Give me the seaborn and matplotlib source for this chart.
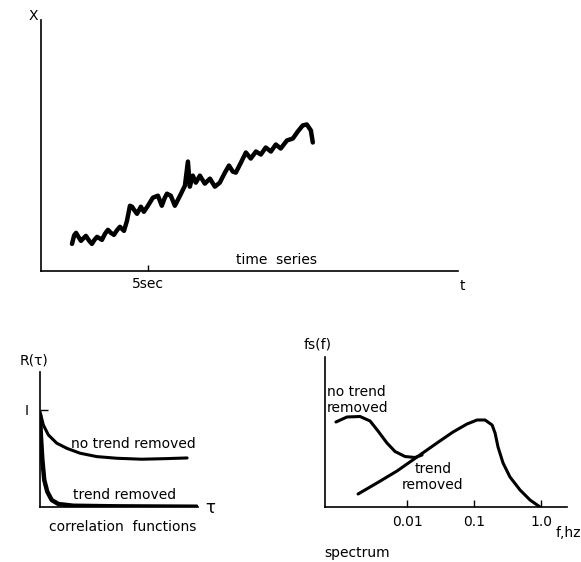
import numpy as np
import pandas as pd
import seaborn as sns
import matplotlib
matplotlib.use("Agg")
import matplotlib.pyplot as plt

sns.set_theme(style="white")
plt.rcParams['font.family'] = ['DejaVu Sans']
plt.rcParams['text.color'] = 'black'
plt.rcParams['xtick.color'] = 'black'
plt.rcParams['ytick.color'] = 'black'
plt.rcParams['lines.solid_joinstyle'] = 'round'
plt.rcParams['lines.solid_capstyle'] = 'round'

# time series (t in sec, x in arbitrary units)
ts_t = [1.45, 1.55, 1.64, 1.75, 1.87, 1.98, 2.10, 2.24, 2.38, 2.50, 2.62, 2.74,
        2.85, 2.99, 3.13, 3.27, 3.41, 3.55, 3.69, 3.88, 4.02,
        4.16, 4.26, 4.35, 4.49, 4.58, 4.67, 4.81, 5.00, 5.23, 5.47, 5.65, 5.78,
        5.89, 6.07, 6.26, 6.50, 6.73, 6.87, 6.96, 7.10, 7.24, 7.43, 7.66, 7.90,
        8.13, 8.36, 8.60, 8.79, 8.97, 9.11, 9.35, 9.58, 9.81, 10.05, 10.28,
        10.51, 10.75, 10.98, 11.21, 11.50, 11.78, 12.01, 12.24, 12.43, 12.62,
        12.71]
ts_x = [1.08, 1.42, 1.52, 1.36, 1.20, 1.30, 1.40, 1.22, 1.08, 1.24, 1.36, 1.30,
        1.24, 1.48, 1.64, 1.52, 1.44, 1.62, 1.76, 1.60, 2.00,
        2.60, 2.56, 2.44, 2.28, 2.42, 2.56, 2.36, 2.60, 2.92, 3.00, 2.60, 2.90,
        3.08, 3.00, 2.60, 3.00, 3.40, 4.36, 3.36, 3.80, 3.52, 3.80, 3.48, 3.68,
        3.36, 3.52, 3.92, 4.20, 3.96, 3.92, 4.32, 4.72, 4.48, 4.76, 4.64,
        4.92, 4.76, 5.04, 4.88, 5.20, 5.28, 5.56, 5.80, 5.84, 5.60,
        5.12]

# correlation functions
tau_no = [0, 0.21, 0.53, 1.06, 1.69, 2.53, 3.59, 4.85, 6.43, 7.97, 9.31]
r_no = [0.98, 0.845, 0.742, 0.657, 0.605, 0.554, 0.519, 0.502, 0.492, 0.498, 0.505]
tau_tr = [0, 0.06, 0.15, 0.27, 0.46, 0.74, 1.16, 2.11, 4.85, 9.92]
r_tr = [0.948, 0.725, 0.485, 0.278, 0.158, 0.072, 0.031, 0.013, 0.007, 0.003]

# spectra
f_no = [0.00087, 0.00127, 0.00199, 0.00281, 0.00369, 0.00502, 0.00662,
        0.00933, 0.01316, 0.01675]
s_no = [0.85, 0.90, 0.905, 0.86, 0.76, 0.64, 0.555, 0.505, 0.495, 0.52]
f_tr = [0.00186, 0.00356, 0.00709, 0.0141, 0.0280, 0.0486, 0.0786, 0.111,
        0.146, 0.186, 0.206, 0.228, 0.271, 0.344, 0.486, 0.685, 0.966]
s_tr = [0.13, 0.24, 0.36, 0.50, 0.64, 0.75, 0.83, 0.87, 0.87, 0.82, 0.74,
        0.60, 0.44, 0.30, 0.17, 0.07, 0.0]
f_ticks = [0.01, 0.1, 1.0]
f_labels = ['0.01', '0.1', '1.0']

W, H = 581, 562


def rect(x0, y0, x1, y1):
    # pixel box -> figure fraction
    return [x0 / W, 1 - y1 / H, (x1 - x0) / W, (y1 - y0) / H]


def ftext(px, py, s, **kw):
    fig.text(px / W, 1 - py / H, s, color='black', **kw)


def style(ax):
    sns.despine(ax=ax)
    for side in ['left', 'bottom']:
        ax.spines[side].set_color('black')
        ax.spines[side].set_linewidth(1.2)
    ax.set_xlabel('')
    ax.set_ylabel('')


fig = plt.figure(figsize=(W / 100, H / 100), dpi=100)
fig.patch.set_facecolor('white')

# ---- time series
ax1 = fig.add_axes(rect(41, 20, 458, 271))
sns.lineplot(x=ts_t, y=ts_x, ax=ax1, color='black', lw=3.2, sort=False)
ax1.set_xlim(0, 19.5)
ax1.set_ylim(0, 10)
style(ax1)
ax1.set_yticks([])
ax1.set_xticks([5])
ax1.set_xticklabels(['5sec'], fontsize=10)
ax1.tick_params(axis='x', direction='in', length=4, width=1, color='black',
                pad=4, bottom=True)
ftext(33, 16, 'X', fontsize=10, ha='center', va='center')
ftext(462, 286, 't', fontsize=10, ha='center', va='center')
ftext(277, 260, 'time  series', fontsize=10, ha='center', va='center')

# ---- correlation functions
ax2 = fig.add_axes(rect(40, 372, 198, 507))
sns.lineplot(x=tau_no, y=r_no, ax=ax2, color='black', lw=2.2, sort=False)
sns.lineplot(x=tau_tr, y=r_tr, ax=ax2, color='black', lw=3.2, sort=False)
ax2.set_xlim(0, 10)
ax2.set_ylim(0, 1.39)
style(ax2)
ax2.set_xticks([])
ax2.set_yticks([1])
ax2.set_yticklabels(['I'], fontsize=10)
ax2.tick_params(axis='y', direction='in', length=6, width=1, color='black',
                pad=8, left=True)
ftext(34, 360, 'R(τ)', fontsize=10, ha='center', va='center')
ftext(210, 508, 'τ', fontsize=12, ha='center', va='center')
ftext(133, 444, 'no trend removed', fontsize=10, ha='center', va='center')
ftext(125, 495, 'trend removed', fontsize=10, ha='center', va='center')
ftext(123, 527, 'correlation  functions', fontsize=10, ha='center', va='center')

# ---- spectrum
ax3 = fig.add_axes(rect(325, 357, 567, 507))
sns.lineplot(x=f_no, y=s_no, ax=ax3, color='black', lw=2.2, sort=False)
sns.lineplot(x=f_tr, y=s_tr, ax=ax3, color='black', lw=2.2, sort=False)
ax3.set_xscale('log')
ax3.set_xlim(5.97e-4, 2.44)
ax3.set_ylim(0, 1.5)
style(ax3)
ax3.set_yticks([])
ax3.set_xticks(f_ticks)
ax3.set_xticklabels(f_labels, fontsize=10)
ax3.minorticks_off()
ax3.tick_params(axis='x', direction='in', length=5, width=1, color='black',
                pad=6, bottom=True)
ftext(318, 345, 'fs(f)', fontsize=10, ha='center', va='center')
ftext(568, 533, 'f,hz', fontsize=10, ha='center', va='center')
ftext(327, 400, 'no trend\nremoved', fontsize=10, ha='left', va='center',
      linespacing=1.1)
ftext(433, 477, 'trend\nremoved', fontsize=10, ha='center', va='center',
      linespacing=1.1)
ftext(357, 553, 'spectrum', fontsize=10, ha='center', va='center')

fig.savefig('out.png', dpi=100)
